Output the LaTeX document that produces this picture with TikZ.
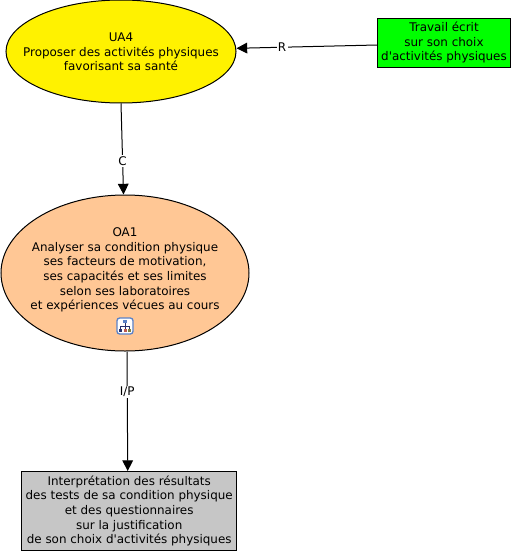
\documentclass[tikz,border=0pt]{standalone}
\usepackage{fontspec}
\setmainfont{DejaVu Sans}
\newfontfamily\plainf{DejaVu Sans}
\usetikzlibrary{shapes.geometric,arrows.meta}
\definecolor{orangec}{RGB}{255,199,149}
\definecolor{greyc}{RGB}{198,198,198}
\definecolor{greenc}{RGB}{0,255,0}
\definecolor{iconblue}{RGB}{90,130,200}
\definecolor{icondark}{RGB}{40,50,110}
\definecolor{iconred}{RGB}{190,90,80}
\definecolor{iconolive}{RGB}{130,130,60}
\newcommand{\apos}{{\plainf\char39}}
\tikzset{
 x=0.75pt,y=-0.75pt,
 lab/.style={font=\fontsize{8.95pt}{11pt}\selectfont,align=center,text=black,inner sep=0pt},
 oval/.style={draw=black,ellipse,line width=0.75pt,inner sep=0pt},
 boxn/.style={draw=black,rectangle,line width=0.75pt,inner sep=0pt},
 conn/.style={draw=black,line width=0.75pt,-{Triangle[length=8pt,width=8pt]}},
 linklabel/.style={fill=white,inner sep=1pt,font=\fontsize{8.95pt}{11pt}\selectfont}
}
\begin{document}
\begin{tikzpicture}
\useasboundingbox (0,0) rectangle (513,553);
\node[oval,fill=yellow,minimum width=172.5pt,minimum height=77.25pt] (ua) at (121,51.5) {};
\node[lab] (uat) at (121,52) {UA4\\Proposer des activités physiques\\favorisant sa santé};
\node[boxn,fill=greenc,minimum width=99.75pt,minimum height=36.75pt,lab] (tr) at (444,42.8) {Travail écrit\\sur son choix\\d\apos activités physiques};
\node[oval,fill=orangec,minimum width=186pt,minimum height=117pt] (oa) at (125,273) {};
\node[lab] (oat) at (125,270) {OA1\\Analyser sa condition physique\\ses facteurs de motivation,\\ses capacités et ses limites\\selon ses laboratoires\\et expériences vécues au cours};
\node[boxn,fill=greyc,minimum width=161.25pt,minimum height=59.25pt,lab] (gr) at (129.2,511) {Interprétation des résultats\\des tests de sa condition physique\\et des questionnaires\\sur la justification\\de son choix d\apos activités physiques};
\node[draw=iconblue,fill=white,rounded corners=2pt,line width=1pt,minimum size=12pt,inner sep=0pt] (icon) at (125,326) {};
\draw[icondark,line width=0.5pt]
 (125,321)--(125,331) (120.5,326)--(129.5,326) (120.5,326)--(120.5,330) (129.5,326)--(129.5,330);
\fill[iconblue] (123,319.5) rectangle (127,323);
\fill[icondark] (119,329) rectangle (122,332);
\fill[iconred] (123.5,329) rectangle (126.5,332);
\fill[iconolive] (128,329) rectangle (131,332);
\draw[conn] (tr.west |- 0,45) -- node[linklabel,pos=0.676]{R} (ua.east |- 0,48.3);
\draw[conn] (ua.south) -- node[linklabel,pos=0.63]{C} ([xshift=-1.1pt]oa.north);
\draw[conn] ([xshift=1.5pt]oa.south) -- node[linklabel,pos=0.34]{I/P} ([xshift=-1.1pt]gr.north);
\end{tikzpicture}
\end{document}
